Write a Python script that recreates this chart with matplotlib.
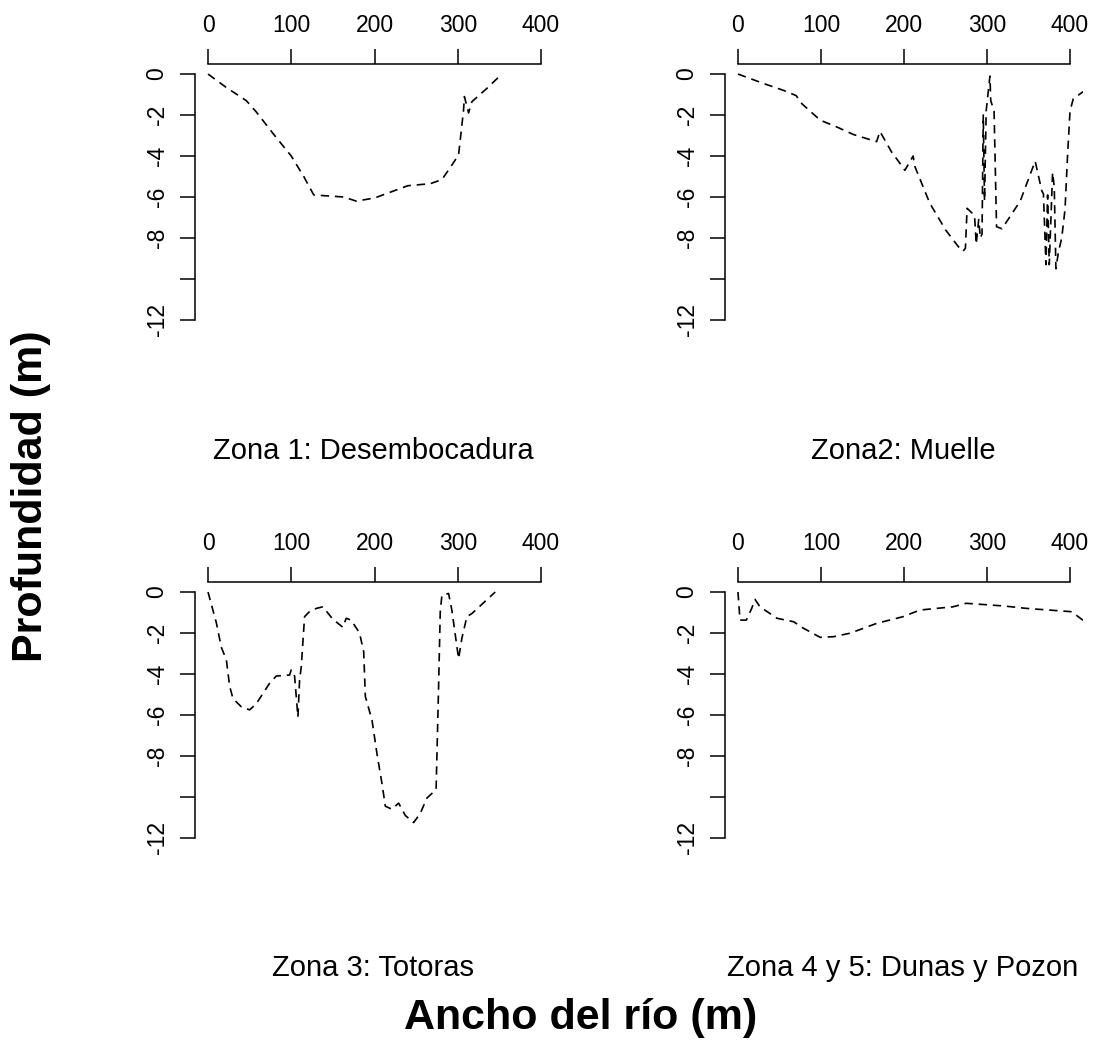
import matplotlib
matplotlib.use("Agg")
import matplotlib.pyplot as plt

plt.rcParams['font.family'] = ['Liberation Sans', 'DejaVu Sans']
plt.rcParams['axes.unicode_minus'] = False

# ---------------- data ----------------
titles = ["Zona 1: Desembocadura", "Zona2: Muelle", "Zona 3: Totoras", "Zona 4 y 5: Dunas y Pozon"]

x_tick_vals = [0, 100, 200, 300, 400]
x_tick_labels = ["0", "100", "200", "300", "400"]
y_tick_vals = [0, -2, -4, -6, -8, -10, -12]
y_tick_labels = ["0", "-2", "-4", "-6", "-8", "", "-12"]

x1 = [0, 20, 46, 58, 80, 100, 115, 127, 145, 163, 178, 200, 220, 240, 267, 281, 292, 301, 307, 308, 313, 317, 335, 353]
y1 = [0, -0.6, -1.3, -1.85, -3.0, -4.0, -5.0, -5.9, -5.95, -6.0, -6.2, -6.05, -5.75, -5.45, -5.35, -5.15, -4.5, -3.95, -1.75, -1.1, -1.9, -1.35, -0.7, 0]

x2 = [0, 30, 55, 70, 77, 99, 120, 139, 155, 167, 171, 185, 195, 201, 211, 213, 231, 250, 265, 271, 274, 276,
      285, 287, 290, 292, 294, 295.5, 297, 299, 303.5, 304.5, 308.5, 311.5, 318, 340, 358, 366, 368, 371, 373,
      375, 379, 381, 383, 386, 390, 394, 397, 400, 404, 418]
y2 = [0, -0.45, -0.8, -1.05, -1.45, -2.25, -2.6, -2.95, -3.15, -3.3, -2.8, -3.8, -4.35, -4.7, -4.0, -4.5, -6.3, -7.6, -8.4, -8.65, -8.5, -6.55,
      -6.9, -8.3, -7.1, -8.0, -7.8, -2.0, -6.2, -1.8, -0.1, -1.3, -1.8, -7.45, -7.55, -6.2, -4.25, -5.7, -5.85, -9.3, -5.9,
      -9.3, -4.8, -5.5, -9.5, -8.7, -8.0, -6.6, -4.0, -1.8, -1.2, -0.8]

x3 = [0, 10, 16, 22, 26, 30, 40, 50, 58, 74, 82, 98, 100, 104, 108, 110, 112, 116, 122, 130, 138, 150, 162, 166, 172,
      182, 187, 189, 197, 203, 209, 213, 221, 229, 237, 247, 255, 263, 267, 274, 277, 279, 281, 289, 293, 301, 305, 311, 317, 345]
y3 = [0, -1.5, -2.7, -3.3, -4.6, -5.2, -5.6, -5.75, -5.45, -4.45, -4.1, -4.05, -3.8, -4.1, -6.1, -4.3, -3.65, -1.2, -0.95, -0.8, -0.72, -1.33, -1.72, -1.28, -1.37,
      -2.0, -2.9, -5.1, -6.25, -7.9, -9.35, -10.45, -10.6, -10.3, -10.9, -11.25, -10.8, -10.05, -9.9, -9.65, -4.6, -0.95, -0.15, -0.07, -0.9, -3.25, -2.25, -1.2, -1.05, 0]

x4 = [0, 2.4, 10, 16.5, 20.5, 26.5, 47, 67, 79, 99, 115, 135, 167, 199, 219, 259, 275, 320, 348, 402, 418]
y4 = [0, -1.37, -1.37, -0.8, -0.36, -0.72, -1.28, -1.45, -1.77, -2.21, -2.18, -2.01, -1.53, -1.2, -0.88, -0.72, -0.55, -0.68, -0.8, -0.96, -1.45]

series = [(x1, y1), (x2, y2), (x3, y3), (x4, y4)]

# ---------------- layout ----------------
W, H = 1095, 1046
fig = plt.figure(figsize=(W / 100, H / 100), dpi=100)

# plot regions in pixels: (left, top, right, bottom)
boxes = [(194.7, 64.2, 554.3, 329.8), (724.7, 64.2, 1083.3, 329.8),
         (194.7, 582.2, 554.3, 847.8), (724.7, 582.2, 1083.3, 847.8)]
title_pos = [(373, 451), (903, 451), (373, 968), (903, 968)]

TICK_FS = 16.5
TITLE_FS = 21
LAB_FS = 31

for (xs, ys), (l, t, r, b), title, (tx, ty) in zip(series, boxes, titles, title_pos):
    ax = fig.add_axes([l / W, 1 - b / H, (r - l) / W, (b - t) / H])
    ax.plot(xs, ys, color='black', lw=1.2, linestyle=(0, (5, 3.5)))
    ax.set_xlim(-16, 416)
    ax.set_ylim(-12.48, 0.48)
    for s in ['right', 'bottom']:
        ax.spines[s].set_visible(False)
    ax.spines['top'].set_bounds(0, 400)
    ax.spines['left'].set_bounds(-12, 0)
    for s in ['top', 'left']:
        ax.spines[s].set_linewidth(1.1)
        ax.spines[s].set_color('black')
    ax.xaxis.tick_top()
    ax.set_xticks(x_tick_vals)
    ax.set_xticklabels(x_tick_labels)
    ax.set_yticks(y_tick_vals)
    ax.set_yticklabels(y_tick_labels, rotation=90, va='center')
    ax.tick_params(axis='x', length=10.8, width=1.1, pad=9, labelsize=TICK_FS)
    ax.tick_params(axis='y', length=10.8, width=1.1, pad=8, labelsize=TICK_FS)
    ax.patch.set_alpha(0)
    fig.text(tx / W, 1 - ty / H, title, ha='center', va='center', fontsize=TITLE_FS)

fig.text(31 / W, 1 - 496 / H, "Profundidad (m)", rotation=90, ha='center', va='center',
         fontsize=LAB_FS, fontweight='bold')
fig.text(581 / W, 1 - 1018 / H, "Ancho del río (m)", ha='center', va='center',
         fontsize=LAB_FS, fontweight='bold')

fig.savefig("out.png", dpi=100, facecolor='white')
